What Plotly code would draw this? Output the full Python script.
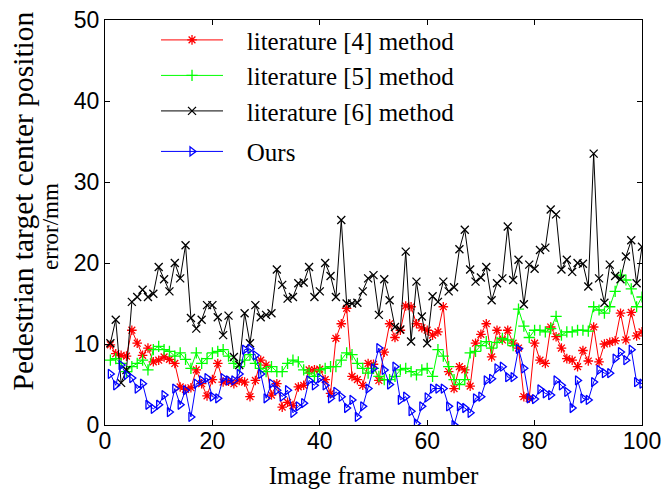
import plotly.graph_objects as go

frames = list(range(1, 101))

lit4 = [9.9, 8.8, 8.6, 8.5, 11.7, 10.1, 8.6, 9.5, 7.8, 8.0,
        8.4, 8.1, 7.6, 4.7, 4.4, 4.6, 6.8, 5.1, 3.6, 5.6,
        7.6, 5.3, 5.4, 5.1, 5.5, 5.3, 3.5, 5.5, 8.0, 7.4,
        3.7, 5.1, 2.2, 2.8, 2.4, 4.7, 4.9, 6.8, 6.8, 6.9,
        5.6, 3.9, 10.7, 12.5, 14.4, 6.0, 5.6, 4.9, 7.6, 7.5,
        5.5, 9.0, 12.5, 10.8, 11.7, 14.7, 14.6, 12.5, 12.0, 11.7,
        11.1, 11.5, 14.6, 6.6, 4.5, 7.2, 6.8, 4.8, 10.1, 11.2,
        12.5, 8.4, 11.7, 10.5, 11.7, 10.1, 9.5, 3.5, 3.3, 10.1,
        8.0, 7.6, 12.1, 10.9, 9.5, 8.2, 8.0, 7.2, 9.2, 7.9,
        12.1, 7.8, 10.0, 10.2, 10.4, 13.8, 10.5, 13.9, 11.0, 11.5]

lit5 = [8.0, 8.2, 7.6, 6.6, 7.2, 7.6, 8.0, 6.8, 9.3, 9.7,
        9.3, 9.1, 8.5, 8.9, 8.1, 7.0, 8.9, 7.6, 8.2, 8.9,
        9.1, 9.3, 8.5, 7.6, 7.2, 8.0, 8.7, 7.6, 7.0, 6.6,
        7.2, 6.6, 6.6, 7.6, 8.0, 7.8, 6.8, 6.4, 6.0, 6.8,
        7.0, 7.2, 7.2, 8.0, 8.9, 8.7, 7.6, 7.0, 6.4, 7.0,
        6.0, 5.6, 5.6, 6.0, 6.8, 7.0, 6.6, 6.2, 6.8, 7.0,
        6.0, 9.3, 8.5, 7.2, 5.6, 5.0, 5.6, 8.9, 9.1, 9.8,
        10.3, 9.5, 10.2, 10.7, 10.5, 9.8, 14.3, 12.2, 10.8, 11.7,
        11.7, 11.5, 11.9, 13.4, 11.1, 11.5, 11.5, 11.7, 11.7, 11.6,
        14.6, 14.2, 13.8, 14.6, 16.5, 18.5, 17.9, 16.8, 14.6, 15.8]

lit6 = [10.1, 13.0, 5.2, 6.8, 15.2, 15.8, 16.7, 15.8, 16.2, 19.5,
        18.0, 16.5, 20.0, 18.1, 22.2, 13.2, 11.9, 13.0, 14.8, 14.8,
        13.3, 11.1, 13.5, 8.4, 7.4, 13.8, 10.1, 14.8, 13.3, 13.6,
        13.8, 19.2, 17.3, 15.6, 15.8, 17.5, 17.6, 19.5, 15.8, 16.5,
        20.0, 18.4, 15.8, 25.3, 15.0, 15.0, 15.1, 16.5, 18.1, 18.5,
        13.6, 18.0, 15.4, 12.1, 11.8, 21.4, 10.3, 17.7, 13.4, 10.1,
        15.9, 15.2, 17.7, 16.5, 17.0, 21.7, 24.1, 19.2, 17.7, 18.2,
        19.5, 15.4, 17.5, 18.1, 24.5, 17.9, 20.4, 14.9, 19.8, 19.3,
        21.6, 21.9, 26.6, 26.0, 19.2, 20.4, 18.9, 20.0, 19.9, 17.1,
        33.5, 18.1, 15.1, 19.8, 18.4, 18.0, 20.8, 22.8, 17.5, 22.0]

ours = [6.3, 4.9, 7.4, 6.2, 5.8, 4.5, 5.1, 2.5, 2.0, 2.5,
        3.7, 1.6, 4.5, 2.5, 4.3, 1.0, 5.1, 5.5, 5.8, 3.5,
        3.3, 5.8, 5.5, 5.5, 6.3, 9.3, 9.4, 8.6, 6.3, 3.3,
        5.1, 4.3, 3.5, 4.3, 1.5, 2.3, 2.7, 5.5, 4.9, 5.8,
        4.9, 3.3, 4.1, 3.5, 2.1, 3.1, 1.0, 2.3, 4.5, 7.0,
        9.5, 6.8, 5.0, 7.2, 3.1, 3.5, 1.7, 0.2, 2.3, 3.4,
        4.5, 4.5, 4.5, 2.3, 0.0, 2.3, 2.1, 1.5, 3.3, 3.5,
        5.5, 5.7, 7.0, 7.2, 5.9, 5.9, 9.4, 7.0, 3.3, 3.2,
        4.4, 3.9, 3.7, 5.5, 4.9, 4.1, 2.1, 5.5, 3.3, 3.1,
        5.3, 6.8, 6.4, 6.4, 8.2, 9.0, 8.0, 9.3, 5.3, 5.1]

x_ticks = [0, 20, 40, 60, 80, 100]
y_ticks = [0, 10, 20, 30, 40, 50]

series = [
    ("literature [4] method", lit4, "#ff0000", "asterisk-open", "g1"),
    ("literature [5] method", lit5, "#00ff00", "cross-thin-open", "g1"),
    ("literature [6] method", lit6, "#000000", "x-thin-open", "g1"),
    ("Ours", ours, "#0000ff", "triangle-right-open", "g2"),
]

SERIF = "Liberation Serif, Times New Roman, serif"
SANS = "Liberation Sans, Arial, sans-serif"
PAD = "&nbsp;&nbsp;&nbsp;"

fig = go.Figure()
for name, vals, color, sym, grp in series:
    fig.add_trace(go.Scatter(
        x=frames, y=vals, name=PAD + name, mode="lines+markers",
        legendgroup=grp,
        line=dict(color=color, width=1),
        marker=dict(symbol=sym, size=8, color=color, line=dict(color=color, width=1.3)),
    ))

axis_common = dict(
    showline=True, linecolor="black", linewidth=1, mirror="ticks",
    ticks="inside", ticklen=5, tickcolor="black", showgrid=False, zeroline=False,
    automargin=False,
    tickfont=dict(family=SANS, size=23, color="black"),
)

fig.update_layout(
    width=665, height=490,
    margin=dict(l=105, r=23, t=20, b=65),
    paper_bgcolor="white", plot_bgcolor="white",
    xaxis=dict(range=[0, 100], tickvals=x_ticks, ticklabelstandoff=-5,
               title=dict(text="Image frame number", standoff=13,
                          font=dict(family=SERIF, size=25, color="black")),
               **axis_common),
    yaxis=dict(range=[0, 50], tickvals=y_ticks, ticklabelstandoff=0,
               **axis_common),
    legend=dict(x=0.095, y=1.007, xanchor="left", yanchor="top",
                bgcolor="rgba(0,0,0,0)", borderwidth=0,
                itemwidth=62, tracegroupgap=5,
                font=dict(family=SERIF, size=25, color="black")),
    showlegend=True,
    annotations=[
        dict(text="Pedestrian target center position", textangle=-90,
             xref="paper", yref="paper", x=0, y=0.552, xanchor="center", yanchor="middle",
             xshift=-82, showarrow=False, font=dict(family=SERIF, size=29.5, color="black")),
        dict(text="error/mm", textangle=-90,
             xref="paper", yref="paper", x=0, y=0.489, xanchor="center", yanchor="middle",
             xshift=-54, showarrow=False, font=dict(family=SERIF, size=23, color="black")),
    ],
)

fig.write_html("out.html",
               config={"displayModeBar": False},
               post_script="document.body.style.margin='0';document.body.style.padding='0';")
